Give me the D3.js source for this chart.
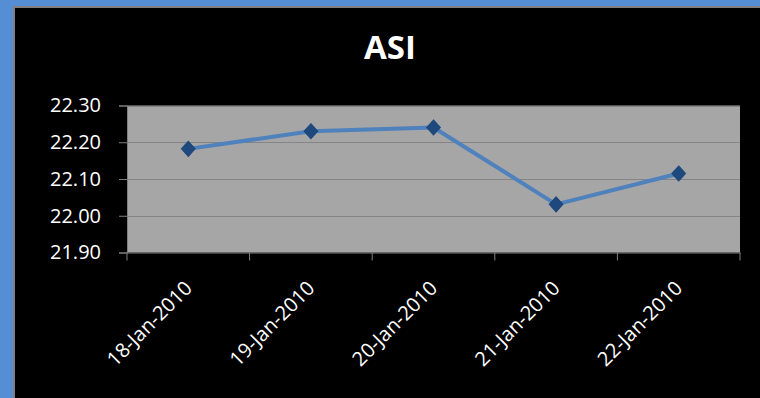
<!DOCTYPE html>
<html><head><meta charset="utf-8">
<script src="https://cdn.jsdelivr.net/npm/d3@7"></script>
<style>
html,body{margin:0;padding:0;background:#000;}
svg{display:block;}
</style></head>
<body>
<svg id="chart" width="760" height="398"></svg>
<script>
const title = "ASI";
const categories = ["18-Jan-2010","19-Jan-2010","20-Jan-2010","21-Jan-2010","22-Jan-2010"];
const values = [22.182, 22.230, 22.240, 22.031, 22.115];
const yTicks = [21.90, 22.00, 22.10, 22.20, 22.30];

const W = 760, H = 398;
const svg = d3.select("#chart");
const font = "'Open Sans', 'Noto Sans', sans-serif";

// frame
svg.append("rect").attr("x",0).attr("y",0).attr("width",W).attr("height",H).attr("fill","#558ed5");
svg.append("rect").attr("x",13).attr("y",6).attr("width",W-13).attr("height",H-6).attr("fill","#808080");
svg.append("rect").attr("x",15).attr("y",8).attr("width",W-15).attr("height",H-8).attr("fill","#000");

const m = {left:127, right:740, top:105.5, bottom:252.5};
const x = d3.scaleBand().domain(categories).range([m.left, m.right]);
const y = d3.scaleLinear().domain([21.90, 22.30]).range([m.bottom, m.top]);

// plot area
svg.append("rect").attr("x",m.left).attr("y",m.top).attr("width",m.right-m.left).attr("height",m.bottom-m.top)
  .attr("fill","#a6a6a6");

// gridlines
svg.append("g").selectAll("line").data(yTicks.slice(1)).join("line")
  .attr("x1",m.left).attr("x2",m.right)
  .attr("y1",d=>Math.round(y(d))+0.5).attr("y2",d=>Math.round(y(d))+0.5)
  .attr("stroke","#858585").attr("stroke-width",1.2);

// y axis
const yAxis = d3.axisLeft(y).tickValues(yTicks).tickFormat(d3.format(".2f")).tickSize(8).tickPadding(18);
const gy = svg.append("g").attr("transform",`translate(${m.left},0)`).call(yAxis);
gy.select(".domain").attr("stroke","#808080");
gy.selectAll(".tick line").attr("stroke","#808080");
gy.selectAll("text").attr("fill","#fff").style("font-family",font).style("font-size","20px");

// x axis
const xAxis = d3.axisBottom(x).tickSize(0).tickFormat("");
const gx = svg.append("g").attr("transform",`translate(0,${m.bottom})`).call(xAxis);
gx.select(".domain").attr("stroke","#808080");
const bounds = categories.map(c=>x(c)).concat([x(categories[categories.length-1])+x.bandwidth()]);
gx.selectAll("line.b").data(bounds).join("line").attr("class","b")
  .attr("x1",d=>d).attr("x2",d=>d).attr("y1",0).attr("y2",8).attr("stroke","#808080");

// x labels
svg.append("g").selectAll("text").data(categories).join("text")
  .attr("transform",d=>`translate(${x(d)+x.bandwidth()/2+5},${m.bottom+37}) rotate(-45)`)
  .attr("text-anchor","end")
  .attr("fill","#fff").style("font-family",font).style("font-size","20px")
  .text(d=>d);

// line
const line = d3.line().x((d,i)=>x(categories[i])+x.bandwidth()/2).y(d=>y(d));
svg.append("path").datum(values).attr("d",line).attr("fill","none")
  .attr("stroke","#4f81bd").attr("stroke-width",4).attr("stroke-linejoin","round");

// markers
svg.append("g").selectAll("path").data(values).join("path")
  .attr("d",d3.symbol().type(d3.symbolDiamond2).size(120))
  .attr("transform",(d,i)=>`translate(${x(categories[i])+x.bandwidth()/2},${y(d)}) scale(1,1.1)`)
  .attr("fill","#1f497d").attr("stroke","#1f497d").attr("stroke-width",1);

// title
svg.append("text").attr("x",390).attr("y",59).attr("text-anchor","middle")
  .attr("fill","#fff").style("font-family",font).style("font-weight","bold").style("font-size","33px")
  .text(title);
</script>
</body></html>
